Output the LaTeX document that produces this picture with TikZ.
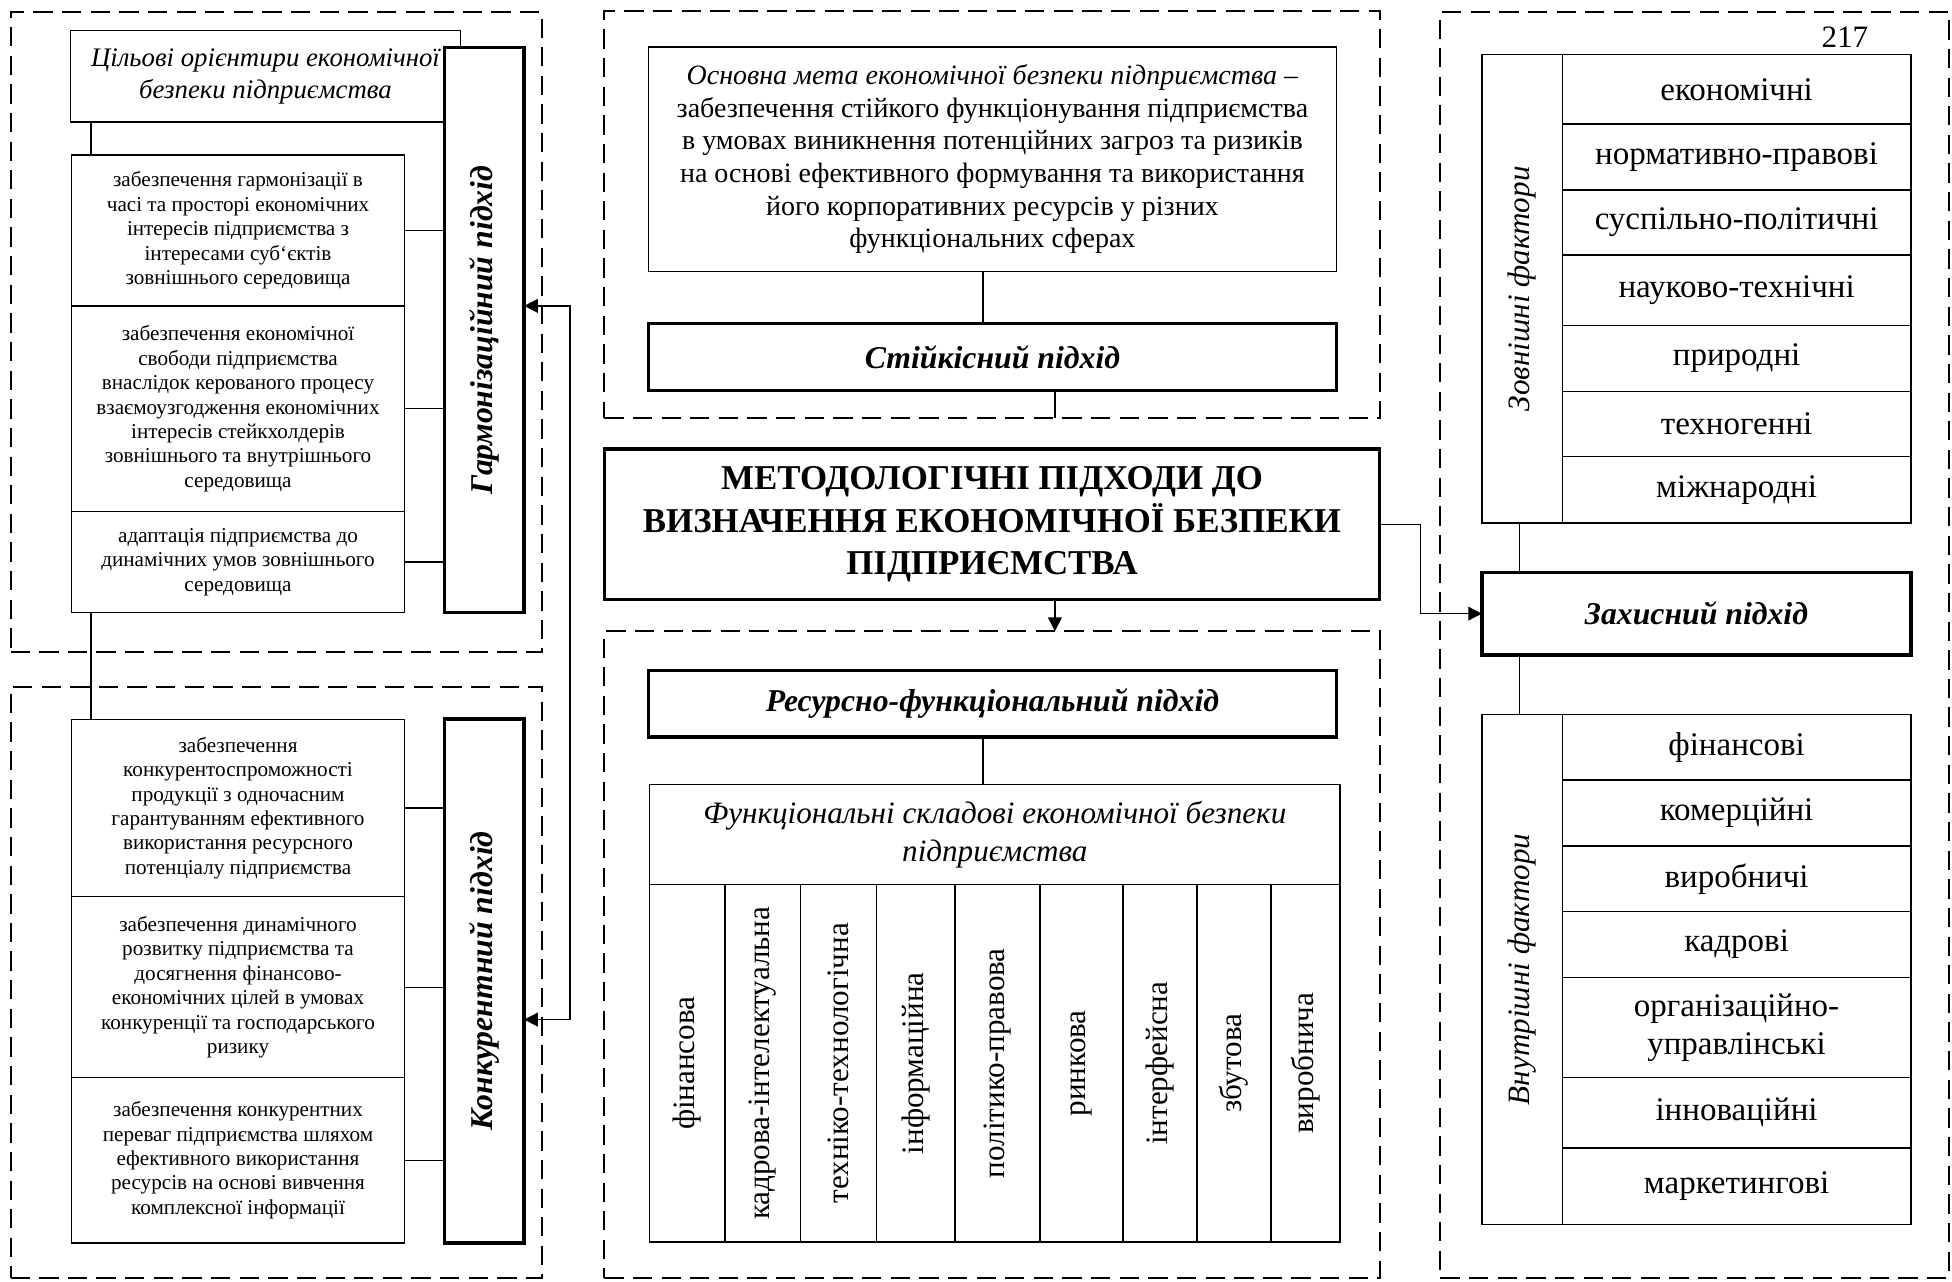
\documentclass[tikz,border=0pt]{standalone}
\usepackage{fontspec}
\setmainfont{Liberation Serif}
\usetikzlibrary{arrows.meta}
\newcommand{\fs}[2]{\fontsize{#1}{#2}\selectfont}
\newcommand{\mybox}[7]{\node[#6, minimum width={#4-(#2)}, minimum height={#5-(#3)}] (#1) at ({(#2+#4)/2},{(#3+#5)/2}) {#7};}
\tikzset{
 dbox/.style={draw, line width=1.6pt, dash pattern=on 15.5pt off 7.5pt, inner sep=0, outer sep=0},
 tbox/.style={draw, line width=1.15pt, inner sep=0, outer sep=0, align=center, fill=white},
 kbox/.style={draw, line width=2.8pt, inner sep=0, outer sep=0, align=center, fill=white},
 conn/.style={line width=1.15pt},
 arr/.style={line width=1.15pt, -{Triangle[length=11pt,width=11pt]}},
 itxt/.style={font=\fs{17}{19.6}},
 ctxt/.style={font=\fs{22.5}{26.2}},
 ltxt/.style={font=\fs{26.5}{30.3}},
 apr/.style={font=\fs{25.5}{30}\bfseries\itshape},
 vtxt/.style={rotate=90, inner sep=0, font=\fs{25}{30}},
}
\begin{document}
\begin{tikzpicture}[x=1pt,y=-1pt]
\fill[white] (0,0) rectangle (1568,1029);
\useasboundingbox (0,0) rectangle (1568,1029);
% dashed groups
\mybox{dl1}{8.5}{9.5}{435.4}{523.5}{dbox}{}
\mybox{dl2}{8.5}{551.7}{435.4}{1026.3}{dbox}{}
\mybox{dc1}{485.4}{9.2}{1108.3}{336}{dbox}{}
\mybox{dc2}{485.4}{507}{1108.3}{1026.3}{dbox}{}
\mybox{dr}{1157}{9.5}{1565.5}{1026.3}{dbox}{}
% ---------- left top
\mybox{goal}{56.5}{24.7}{370}{98}{tbox, font=\fs{21.5}{26}\itshape}{Цільові орієнтири економічної\\безпеки підприємства}
\mybox{hg}{357}{38.2}{421}{492}{kbox}{}
\node[vtxt, font=\fs{25.5}{30}\bfseries\itshape] (tg) at (hg.center) {Гармонізаційний підхід};
\mybox{h1}{57.4}{124.4}{325}{245.8}{tbox, itxt}{забезпечення гармонізації в\\часі та просторі економічних\\інтересів підприємства з\\інтересами суб`єктів\\зовнішнього середовища}
\mybox{h2}{57.4}{245.8}{325}{410.8}{tbox, itxt}{забезпечення економічної\\свободи підприємства\\внаслідок керованого процесу\\взаємоузгодження економічних\\інтересів стейкхолдерів\\зовнішнього та внутрішнього\\середовища}
\mybox{h3}{57.4}{410.8}{325}{492}{tbox, itxt}{адаптація підприємства до\\динамічних умов зовнішнього\\середовища}
% ---------- left bottom
\mybox{hk}{357}{577.7}{421}{998.3}{kbox}{}
\node[vtxt, font=\fs{25.5}{30}\bfseries\itshape] (tk) at (hk.center) {Конкурентний підхід};
\mybox{k1}{57.4}{577.8}{325}{720.3}{tbox, itxt}{забезпечення\\конкурентоспроможності\\продукції з одночасним\\гарантуванням ефективного\\використання ресурсного\\потенціалу підприємства}
\mybox{k2}{57.4}{720.3}{325}{865.7}{tbox, itxt}{забезпечення динамічного\\розвитку підприємства та\\досягнення фінансово-\\економічних цілей в умовах\\конкуренції та господарського\\ризику}
\mybox{k3}{57.4}{865.7}{325}{998.3}{tbox, itxt}{забезпечення конкурентних\\переваг підприємства шляхом\\ефективного використання\\ресурсів на основі вивчення\\комплексної інформації}
% left connectors
\coordinate (lx) at (73,0);
\draw[conn] (lx |- goal.south) -- (lx |- h1.north);
\draw[conn] (lx |- h3.south) -- (lx |- k1.north);
\foreach \n in {h1,h2,h3} \draw[conn] (\n.east) -- (\n.east -| hg.west);
\foreach \n in {k1,k2,k3} \draw[conn] (\n.east) -- (\n.east -| hk.west);
\coordinate (ga) at (457.8,245.7);
\coordinate (ka) at (457.8,819);
\draw[arr] (ka) -- (ga) -- (ga -| hg.east);
\draw[arr] (ka) -- (ka -| hk.east);
% ---------- center
\mybox{aim}{521}{37.7}{1073.4}{218}{tbox, ctxt}{\textit{Основна мета економічної безпеки підприємства –}\\забезпечення стійкого функціонування підприємства\\в умовах виникнення потенційних загроз та ризиків\\на основі ефективного формування та використання\\його корпоративних ресурсів у різних\\функціональних сферах}
\mybox{stk}{521}{259.9}{1073.4}{313.6}{kbox, apr}{Стійкісний підхід}
\mybox{main}{485.4}{360.5}{1108.3}{481.7}{kbox, font=\fs{28}{34.4}\bfseries}{МЕТОДОЛОГІЧНІ ПІДХОДИ ДО\\ВИЗНАЧЕННЯ ЕКОНОМІЧНОЇ БЕЗПЕКИ\\ПІДПРИЄМСТВА}
\mybox{res}{521}{538.6}{1073.4}{592.1}{kbox, apr}{Ресурсно-функціональний підхід}
\mybox{hdr}{521.9}{630}{1076.3}{710.7}{tbox, font=\fs{25}{30.5}\itshape}{Функціональні складові економічної безпеки\\підприємства}
\mybox{c1}{521.9}{710.7}{582.5}{997.5}{tbox}{}
\mybox{c2}{582.5}{710.7}{643.1}{997.5}{tbox}{}
\mybox{c3}{643.1}{710.7}{704.2}{997.5}{tbox}{}
\mybox{c4}{704.2}{710.7}{767}{997.5}{tbox}{}
\mybox{c5}{767}{710.7}{835.3}{997.5}{tbox}{}
\mybox{c6}{835.3}{710.7}{902.2}{997.5}{tbox}{}
\mybox{c7}{902.2}{710.7}{961.5}{997.5}{tbox}{}
\mybox{c8}{961.5}{710.7}{1021}{997.5}{tbox}{}
\mybox{c9}{1021}{710.7}{1076.3}{997.5}{tbox}{}
\node[vtxt] (t1) at (c1.center) {фінансова};
\node[vtxt] (t2) at (c2.center) {кадрова-інтелектуальна};
\node[vtxt] (t3) at (c3.center) {техніко-технологічна};
\node[vtxt] (t4) at (c4.center) {інформаційна};
\node[vtxt] (t5) at (c5.center) {політико-правова};
\node[vtxt] (t6) at (c6.center) {ринкова};
\node[vtxt] (t7) at (c7.center) {інтерфейсна};
\node[vtxt] (t8) at (c8.center) {збутова};
\node[vtxt] (t9) at (c9.center) {виробнича};
\coordinate (cx1) at (789.5,0);
\coordinate (cx2) at (847.4,0);
\draw[conn] (cx1 |- aim.south) -- (cx1 |- stk.north);
\draw[conn] (cx2 |- stk.south) -- (cx2 |- dc1.south);
\draw[arr] (cx2 |- main.south) -- (cx2 |- dc2.north);
\draw[conn] (cx1 |- res.south) -- (cx1 |- hdr.north);
% ---------- right
\node[font=\fs{25}{30}] (pg) at (1482,30) {217};
\mybox{zl}{1190.4}{44}{1254.9}{420}{tbox}{}
\node[vtxt, font=\fs{25}{30}\itshape] (zlt) at (zl.center) {Зовнішні фактори};
\mybox{z1}{1254.9}{44}{1535}{99.7}{tbox, ltxt}{економічні}
\mybox{z2}{1254.9}{99.7}{1535}{152.5}{tbox, ltxt}{нормативно-правові}
\mybox{z3}{1254.9}{152.5}{1535}{204.8}{tbox, ltxt}{суспільно-політичні}
\mybox{z4}{1254.9}{204.8}{1535}{261.3}{tbox, ltxt}{науково-технічні}
\mybox{z5}{1254.9}{261.3}{1535}{314.4}{tbox, ltxt}{природні}
\mybox{z6}{1254.9}{314.4}{1535}{366.8}{tbox, ltxt}{техногенні}
\mybox{z7}{1254.9}{366.8}{1535}{420}{tbox, ltxt}{міжнародні}
\mybox{zah}{1190.4}{459.8}{1535}{526}{kbox, apr}{Захисний підхід}
\mybox{vl}{1190.4}{574}{1254.9}{983.4}{tbox}{}
\node[vtxt, font=\fs{25}{30}\itshape] (vlt) at (vl.center) {Внутрішні фактори};
\mybox{v1}{1254.9}{574}{1535}{626.5}{tbox, ltxt}{фінансові}
\mybox{v2}{1254.9}{626.5}{1535}{679.6}{tbox, ltxt}{комерційні}
\mybox{v3}{1254.9}{679.6}{1535}{732.1}{tbox, ltxt}{виробничі}
\mybox{v4}{1254.9}{732.1}{1535}{785.2}{tbox, ltxt}{кадрові}
\mybox{v5}{1254.9}{785.2}{1535}{865.7}{tbox, ltxt}{організаційно-\\управлінські}
\mybox{v6}{1254.9}{865.7}{1535}{922}{tbox, ltxt}{інноваційні}
\mybox{v7}{1254.9}{922}{1535}{983.4}{tbox, ltxt}{маркетингові}
\coordinate (rx) at (1220.6,0);
\coordinate (mz) at (1141.1,0);
\draw[conn] (rx |- zl.south) -- (rx |- zah.north);
\draw[conn] (rx |- zah.south) -- (rx |- vl.north);
\draw[arr] (main.east) -- (mz |- main.east) |- (zah.west);
\end{tikzpicture}
\end{document}
